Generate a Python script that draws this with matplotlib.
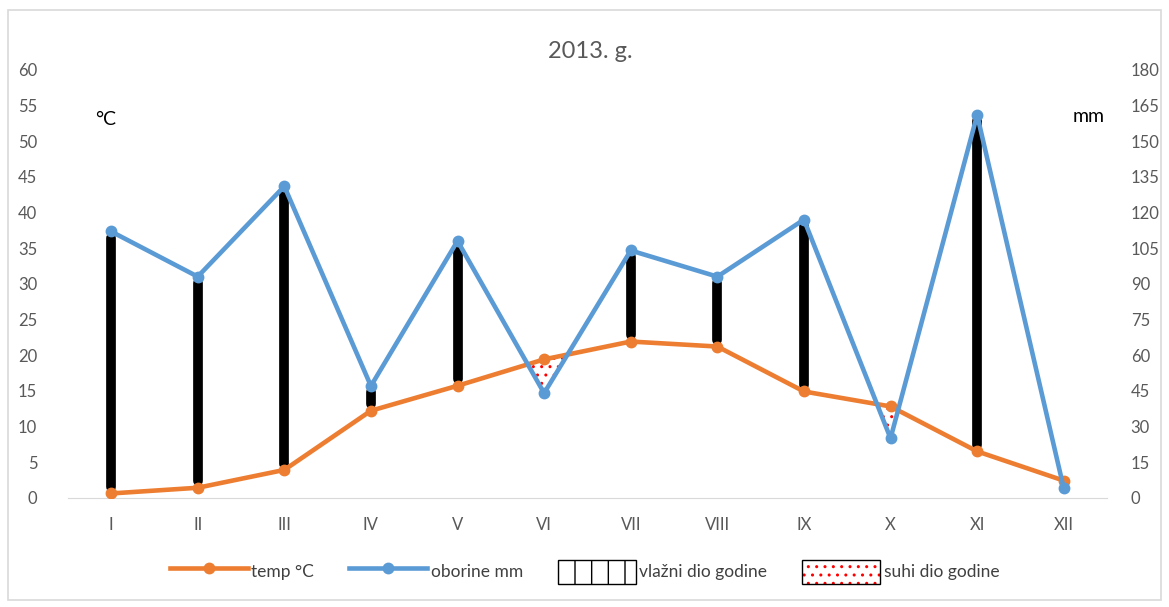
import numpy as np
import matplotlib.pyplot as plt
from matplotlib.patches import Patch, Rectangle
from matplotlib.lines import Line2D
from matplotlib.legend_handler import HandlerTuple

months = ['I', 'II', 'III', 'IV', 'V', 'VI', 'VII', 'VIII', 'IX', 'X', 'XI', 'XII']
temp = [0.6, 1.4, 3.9, 12.2, 15.7, 19.4, 21.9, 21.2, 14.9, 12.8, 6.5, 2.4]
oborine = [112, 93, 131, 47, 108, 44, 104, 93, 117, 25, 161, 4]

plt.rcParams.update({
    'font.family': ['Lato', 'DejaVu Sans'],
    'font.size': 12,
    'hatch.linewidth': 1.0,
})

orange = '#ED7D31'
blue = '#5B9BD5'
gray = '#595959'

x = np.arange(len(months))
t = np.array(temp)
p = np.array(oborine) / 3.0  # 1 degC = 3 mm

fig = plt.figure(figsize=(11.69, 6.07), dpi=100)
ax = fig.add_axes([0.058, 0.180, 0.889, 0.705])

# vlazni dio godine: vertical bars where precipitation above temperature
wet = p > t
gap = 0.9
ax.vlines(x[wet], t[wet] + gap, p[wet] - gap, color='black', lw=7,
          capstyle='round', zorder=2)

# suhi dio godine: dotted fill where temperature above precipitation
xf = np.linspace(0, len(months) - 1, 1101)
tf = np.interp(xf, x, t)
pf = np.interp(xf, x, p)
ax.fill_between(xf, pf, tf, where=tf > pf, interpolate=True,
                facecolor='white', edgecolor='red', hatch='..', lw=0, zorder=1)

ax.plot(x, t, color=orange, lw=3.3, marker='o', ms=7.5, zorder=3)
ax.plot(x, p, color=blue, lw=3.3, marker='o', ms=7.5, zorder=4)

ax.set_xlim(-0.5, len(months) - 0.5)
ax.set_ylim(0, 60)
ax.set_yticks(np.arange(0, 61, 5))
ax.set_xticks(x)
ax.set_xticklabels(months)

ax2 = ax.twinx()
ax2.set_ylim(0, 180)
ax2.set_yticks(np.arange(0, 181, 15))

for a in (ax, ax2):
    for s in a.spines.values():
        s.set_visible(False)
    a.tick_params(length=0, colors=gray, labelsize=12)
ax.spines['bottom'].set_visible(True)
ax.spines['bottom'].set_color('#d9d9d9')
ax.tick_params(axis='y', pad=22)
ax.tick_params(axis='x', pad=14)
ax2.tick_params(axis='y', pad=17)

fig.text(0.505, 0.915, '2013. g.', ha='center', va='center', fontsize=17, color=gray)
ax.text(0.036, 0.885, '°C', transform=ax.transAxes, fontsize=14, ha='center',
        va='center', color='black')
ax.text(0.982, 0.89, 'mm', transform=ax.transAxes, fontsize=14, ha='center',
        va='center', color='black')

handles = [
    Line2D([], [], color=orange, lw=3.3, marker='o', ms=7.5),
    Line2D([], [], color=blue, lw=3.3, marker='o', ms=7.5),
    Patch(facecolor='white', edgecolor='black', hatch='|', lw=1),
    (Patch(facecolor='white', edgecolor='red', hatch='..', lw=0),
     Patch(facecolor='none', edgecolor='black', lw=1)),
]
labels = ['temp °C', 'oborine mm', 'vlažni dio godine', 'suhi dio godine']
fig.legend(handles, labels, loc='center', bbox_to_anchor=(0.5, 0.058), ncol=4,
           frameon=False, handlelength=4.5, handleheight=1.8, handletextpad=0.2,
           columnspacing=2.0, fontsize=12.5, labelcolor='#404040',
           handler_map={tuple: HandlerTuple(ndivide=1)})

fig.patches.append(Rectangle((0.007, 0.012), 0.986, 0.972, transform=fig.transFigure,
                             fill=False, edgecolor='#d9d9d9', lw=1.2))

fig.savefig('out.png', dpi=100)
